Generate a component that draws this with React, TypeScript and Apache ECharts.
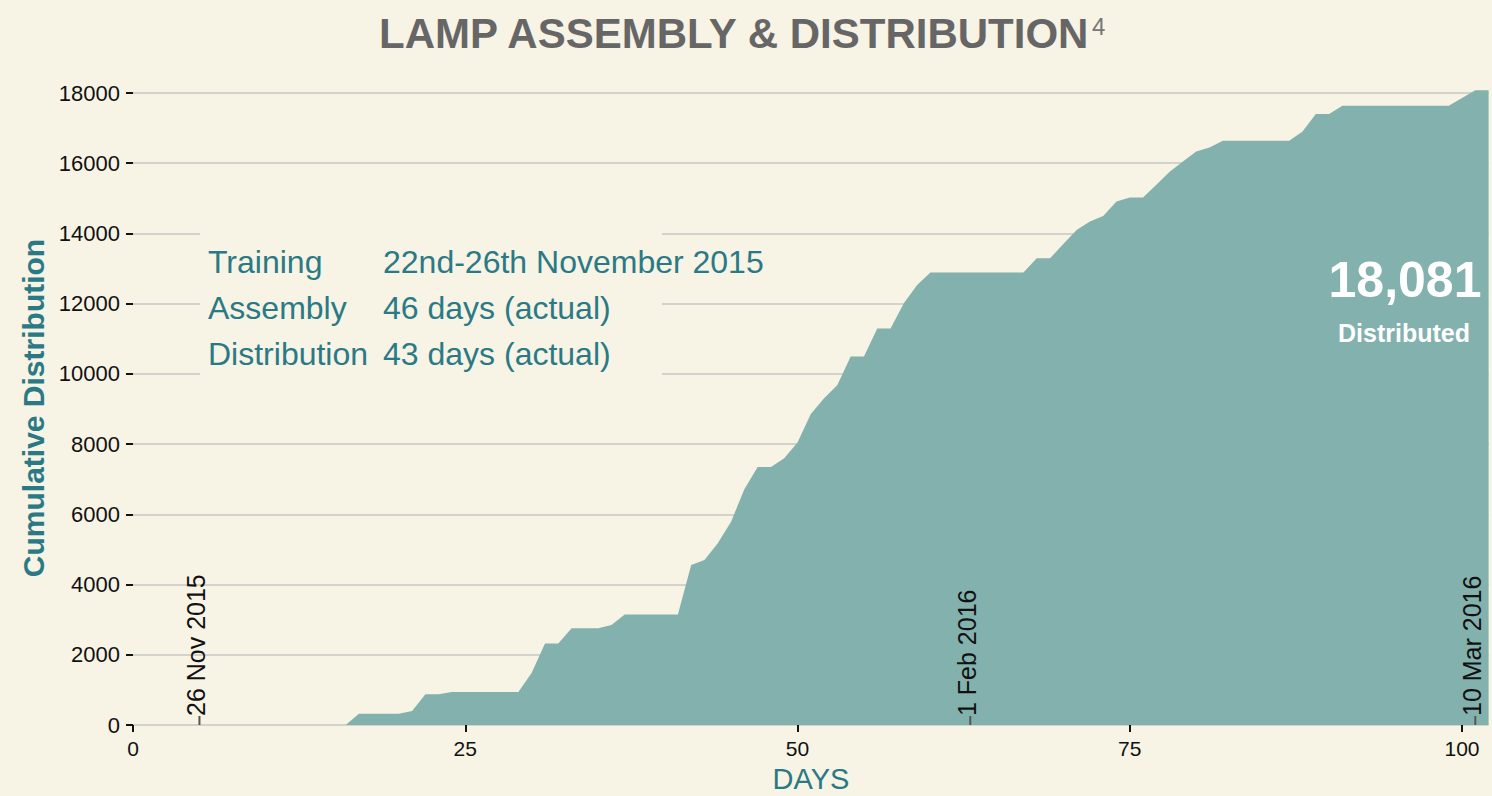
import React, { useEffect, useRef } from "react";
import * as echarts from "echarts";

// Day index (x) and cumulative distribution (y)
const days: number[] = [
  0, 1, 2, 3, 4, 5, 6, 7, 8, 9, 10, 11, 12, 13, 14, 15, 16, 17, 18, 19, 20,
  21, 22, 23, 24, 25, 26, 27, 28, 29, 30, 31, 32, 33, 34, 35, 36, 37, 38, 39, 40,
  41, 42, 43, 44, 45, 46, 47, 48, 49, 50, 51, 52, 53, 54, 55, 56, 57, 58, 59, 60,
  61, 62, 63, 64, 65, 66, 67, 68, 69, 70, 71, 72, 73, 74, 75, 76, 77, 78, 79, 80,
  81, 82, 83, 84, 85, 86, 87, 88, 89, 90, 91, 92, 93, 94, 95, 96, 97, 98, 99, 100,
  101, 102,
];
const cumulative: number[] = [
  0, 0, 0, 0, 0, 0, 0, 0, 0, 0, 0, 0, 0, 0, 0, 0, 0, 320, 320, 320, 320,
  400, 875, 875, 940, 940, 940, 940, 940, 940, 1490, 2320, 2320, 2755, 2755, 2755, 2850, 3145, 3145, 3145, 3145,
  3145, 4560, 4700, 5175, 5790, 6715, 7350, 7350, 7595, 8045, 8860, 9305, 9685, 10495, 10495, 11290, 11290, 12010, 12535, 12885,
  12885, 12885, 12885, 12885, 12885, 12885, 12885, 13290, 13290, 13700, 14100, 14340, 14500, 14910, 15025, 15025, 15385, 15760, 16050, 16335,
  16450, 16640, 16640, 16640, 16640, 16640, 16640, 16905, 17400, 17400, 17635, 17635, 17635, 17635, 17635, 17635, 17635, 17635, 17635, 17855,
  18081, 18081,
];

const xTicks: number[] = [0, 25, 50, 75, 100];
const dateDays: number[] = [5, 63, 101];
const dateLabels: string[] = ["26 Nov 2015", "1 Feb 2016", "10 Mar 2016"];
const infoKeys: string[] = ["Training", "Assembly", "Distribution"];
const infoValues: string[] = ["22nd-26th November 2015", "46 days (actual)", "43 days (actual)"];
const totalLabel = "18,081";

const BG = "#f7f3e5";
const TEAL = "#2a7a85";
const AREA = "#83b2ae";
const FONT = "Liberation Sans, Arial, sans-serif";

export default function App() {
  const ref = useRef<HTMLDivElement>(null);

  useEffect(() => {
    if (!ref.current) return;
    const chart = echarts.init(ref.current, null, { renderer: "svg" });
    const option: any = {
      animation: false,
      backgroundColor: BG,
      grid: { left: 133, right: 3.4, top: 93, bottom: 71 },
      xAxis: {
        type: "value",
        min: 0,
        max: 102,
        interval: 25,
        axisLine: { show: true, lineStyle: { color: "#000", opacity: 0 } },
        axisTick: {
          show: true,
          customValues: xTicks,
          length: 7,
          lineStyle: { color: "#111", width: 2, opacity: 1 },
        },
        axisLabel: {
          customValues: xTicks,
          margin: 13,
          color: "#111",
          fontSize: 21,
          fontFamily: FONT,
        },
        splitLine: { show: false },
      },
      yAxis: {
        type: "value",
        min: 0,
        max: 18000,
        interval: 2000,
        axisLine: { show: true, lineStyle: { color: "#000", opacity: 0 } },
        axisTick: { show: true, length: 7, lineStyle: { color: "#111", width: 2, opacity: 1 } },
        axisLabel: {
          margin: 13,
          color: "#111",
          fontSize: 22,
          fontFamily: FONT,
          formatter: (v: number) => String(v),
        },
        splitLine: { show: true, lineStyle: { color: "#d4d2cc", width: 2 } },
      },
      series: [
        {
          type: "line",
          data: days.map((d, i) => [d, cumulative[i]]),
          symbol: "none",
          clip: false,
          lineStyle: { width: 0, color: AREA },
          areaStyle: { color: AREA, opacity: 1 },
          z: 3,
        },
      ],
    };
    chart.setOption(option);

    const graphics: any[] = [];
    // Title
    graphics.push({
      type: "text",
      x: 379,
      y: 33,
      style: {
        text: "LAMP ASSEMBLY & DISTRIBUTION",
        fill: "#666666",
        font: `bold 42px ${FONT}`,
        align: "left",
        verticalAlign: "middle",
      },
    });
    graphics.push({
      type: "text",
      x: 1092,
      y: 26,
      style: { text: "4", fill: "#777777", font: `24px ${FONT}`, align: "left", verticalAlign: "middle" },
    });
    // Axis titles
    graphics.push({
      type: "text",
      x: 33,
      y: 408,
      rotation: Math.PI / 2,
      style: {
        text: "Cumulative Distribution",
        fill: TEAL,
        font: `bold 30px ${FONT}`,
        align: "center",
        verticalAlign: "middle",
      },
    });
    graphics.push({
      type: "text",
      x: 811,
      y: 779,
      style: { text: "DAYS", fill: TEAL, font: `29px ${FONT}`, align: "center", verticalAlign: "middle" },
    });
    // Info box
    graphics.push({
      type: "rect",
      shape: { x: 200, y: 222, width: 462, height: 166 },
      style: { fill: BG },
      z: 10,
    });
    infoKeys.forEach((k, i) => {
      graphics.push({
        type: "text",
        x: 208,
        y: 262 + i * 46,
        z: 11,
        style: { text: k, fill: TEAL, font: `32px ${FONT}`, align: "left", verticalAlign: "middle" },
      });
      graphics.push({
        type: "text",
        x: 383,
        y: 262 + i * 46,
        z: 11,
        style: { text: infoValues[i], fill: TEAL, font: `32px ${FONT}`, align: "left", verticalAlign: "middle" },
      });
    });
    // Total
    graphics.push({
      type: "text",
      x: 1405,
      y: 280,
      z: 11,
      style: { text: totalLabel, fill: "#ffffff", font: `bold 50px ${FONT}`, align: "center", verticalAlign: "middle" },
    });
    graphics.push({
      type: "text",
      x: 1404,
      y: 333,
      z: 11,
      style: { text: "Distributed", fill: "#ffffff", font: `bold 25px ${FONT}`, align: "center", verticalAlign: "middle" },
    });
    // Date markers
    dateDays.forEach((d, i) => {
      const p = chart.convertToPixel({ gridIndex: 0 }, [d, 0]) as number[];
      graphics.push({
        type: "line",
        z: 11,
        shape: { x1: p[0], y1: p[1] - 9, x2: p[0], y2: p[1] },
        style: { stroke: "#555555", lineWidth: 2 },
      });
      graphics.push({
        type: "text",
        x: p[0] + 9,
        y: p[1] - 9,
        rotation: Math.PI / 2,
        z: 11,
        style: { text: dateLabels[i], fill: "#111111", font: `25px ${FONT}`, align: "left", verticalAlign: "bottom" },
      });
    });
    chart.setOption({ graphic: graphics });

    return () => chart.dispose();
  }, []);

  return (
    <div
      ref={ref}
      style={{ position: "fixed", left: 0, top: 0, width: 1492, height: 796 }}
    />
  );
}
